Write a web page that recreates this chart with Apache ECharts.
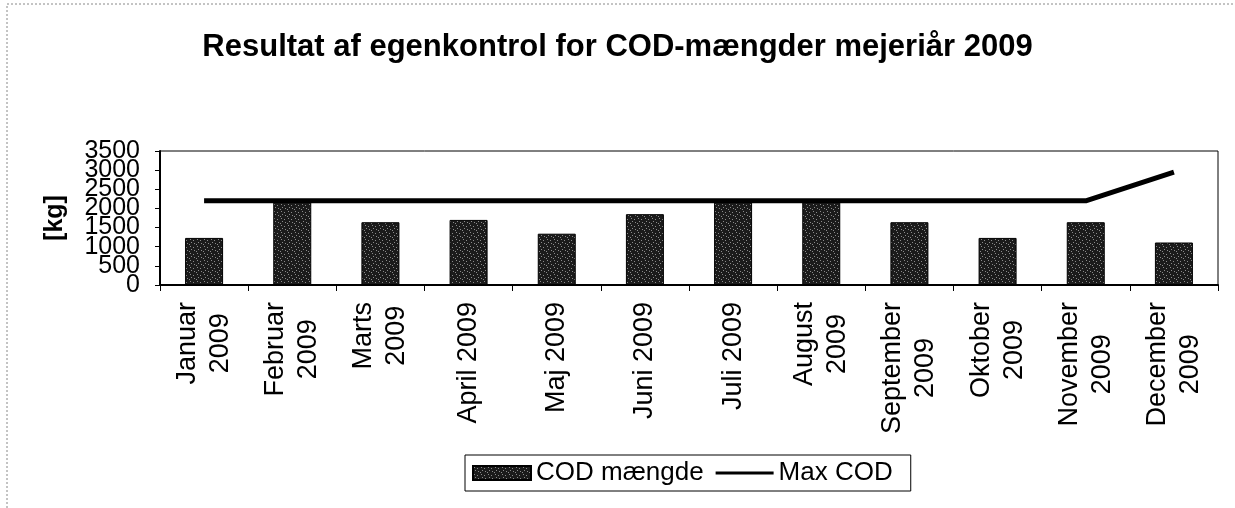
<!DOCTYPE html>
<html>
<head>
<meta charset="utf-8">
<title>COD-mængder 2009</title>
<script src="https://cdn.jsdelivr.net/npm/echarts@6/dist/echarts.min.js"></script>
<style>
  html, body { margin: 0; padding: 0; background: #fff; }
  #cod-chart { width: 1235px; height: 508px; }
</style>
</head>
<body>
<div id="cod-chart"></div>
<script>
// =========================== Data ===========================
const months = [
  'Januar\n2009', 'Februar\n2009', 'Marts\n2009', 'April 2009', 'Maj 2009', 'Juni 2009',
  'Juli 2009', 'August\n2009', 'September\n2009', 'Oktober\n2009', 'November\n2009', 'December\n2009'
];
const codAmount = [1230, 2200, 1640, 1700, 1340, 1850, 2200, 2200, 1640, 1230, 1640, 1110];
const maxCod = [2200, 2200, 2200, 2200, 2200, 2200, 2200, 2200, 2200, 2200, 2200, 2950];

// y ticks every 500; labels split over two overlaid axes so none gets dropped
const yTicks = [0, 500, 1000, 1500, 2000, 2500, 3000, 3500];
const yLabelsEven = [0, 1000, 2000, 3000];
const yLabelsOdd = [500, 1500, 2500, 3500];
const yMin = 0;
const yMax = 3500;

const font = 'Liberation Sans, Arial, sans-serif';

// speckled dark fill, like the scanned print
const makePattern = function () {
  const c = document.createElement('canvas');
  c.width = 7;
  c.height = 7;
  const ctx = c.getContext('2d');
  ctx.fillStyle = '#1b1b1b';
  ctx.fillRect(0, 0, 7, 7);
  ctx.fillStyle = '#8a8a8a';
  [[1, 1], [4, 2], [2, 4], [5, 5], [0, 6]].forEach(p => ctx.fillRect(p[0], p[1], 1, 1));
  return c;
};

const barFill = { image: makePattern(), repeat: 'repeat' };

const yLabelStyle = {
  margin: 20,
  color: '#000',
  fontSize: 25,
  fontFamily: font,
  showMinLabel: true,
  showMaxLabel: true,
  formatter: function (v) { return String(v); }
};

const myChart = echarts.init(document.querySelector('#cod-chart'));

const option = {
  animation: false,
  textStyle: { fontFamily: font, color: '#000' },
  title: {
    text: 'Resultat af egenkontrol for COD-mængder mejeriår 2009',
    left: 'center',
    top: 27,
    textStyle: { fontFamily: font, fontSize: 31, fontWeight: 'bold', color: '#000' }
  },
  graphic: [
    {
      type: 'rect',
      shape: { x: 7, y: 4, width: 1300, height: 600 },
      style: { fill: null, stroke: '#888', lineWidth: 1, lineDash: [2, 2] },
      silent: true
    }
  ],
  legend: {
    left: 465,
    top: 455,
    padding: [5, 18, 5, 7],
    borderColor: '#000',
    borderWidth: 1,
    itemWidth: 58,
    itemHeight: 14,
    itemGap: 12,
    textStyle: { fontFamily: font, fontSize: 26, color: '#000' },
    data: [
      { name: 'COD mængde', icon: 'rect' },
      { name: 'Max COD', icon: 'path://M0,0 L58,0 L58,3 L0,3 Z' }
    ]
  },
  grid: {
    left: 160,
    right: 17,
    top: 151,
    bottom: 223,
    show: true,
    borderColor: '#000',
    borderWidth: 1,
    backgroundColor: 'transparent'
  },
  xAxis: {
    type: 'category',
    data: months,
    axisLine: { lineStyle: { color: '#000', width: 2 } },
    axisTick: { show: true, length: 6, lineStyle: { color: '#000' } },
    axisLabel: {
      rotate: 90,
      interval: 0,
      margin: 17,
      color: '#000',
      fontSize: 27,
      lineHeight: 33,
      fontFamily: font,
      formatter: function (v) {
        return v.split('\n').map(s => '{c|' + s + '}').join('\n');
      },
      rich: {
        c: { align: 'center', fontSize: 27, lineHeight: 33, fontFamily: font, color: '#000' }
      }
    }
  },
  yAxis: [
    {
      type: 'value',
      min: yMin,
      max: yMax,
      position: 'left',
      name: '[kg]',
      nameLocation: 'middle',
      nameGap: 92,
      nameTextStyle: { fontFamily: font, fontSize: 25, fontWeight: 'bold', color: '#000' },
      axisLine: { show: true, lineStyle: { color: '#000', width: 2 } },
      axisTick: { show: true, length: 5, customValues: yTicks, lineStyle: { color: '#000' } },
      splitLine: { show: false },
      axisLabel: Object.assign({ customValues: yLabelsEven }, yLabelStyle)
    },
    {
      type: 'value',
      min: yMin,
      max: yMax,
      position: 'left',
      axisLine: { show: false },
      axisTick: { show: false },
      splitLine: { show: false },
      axisLabel: Object.assign({ customValues: yLabelsOdd }, yLabelStyle)
    }
  ],
  series: [
    {
      name: 'COD mængde',
      type: 'bar',
      data: codAmount,
      barWidth: 38,
      itemStyle: { color: barFill, borderColor: '#000', borderWidth: 1 }
    },
    {
      name: 'Max COD',
      type: 'line',
      data: maxCod,
      symbol: 'none',
      lineStyle: { color: '#000', width: 5 },
      itemStyle: { color: '#000' },
      z: 3
    }
  ]
};

myChart.setOption(option);
</script>
</body>
</html>
